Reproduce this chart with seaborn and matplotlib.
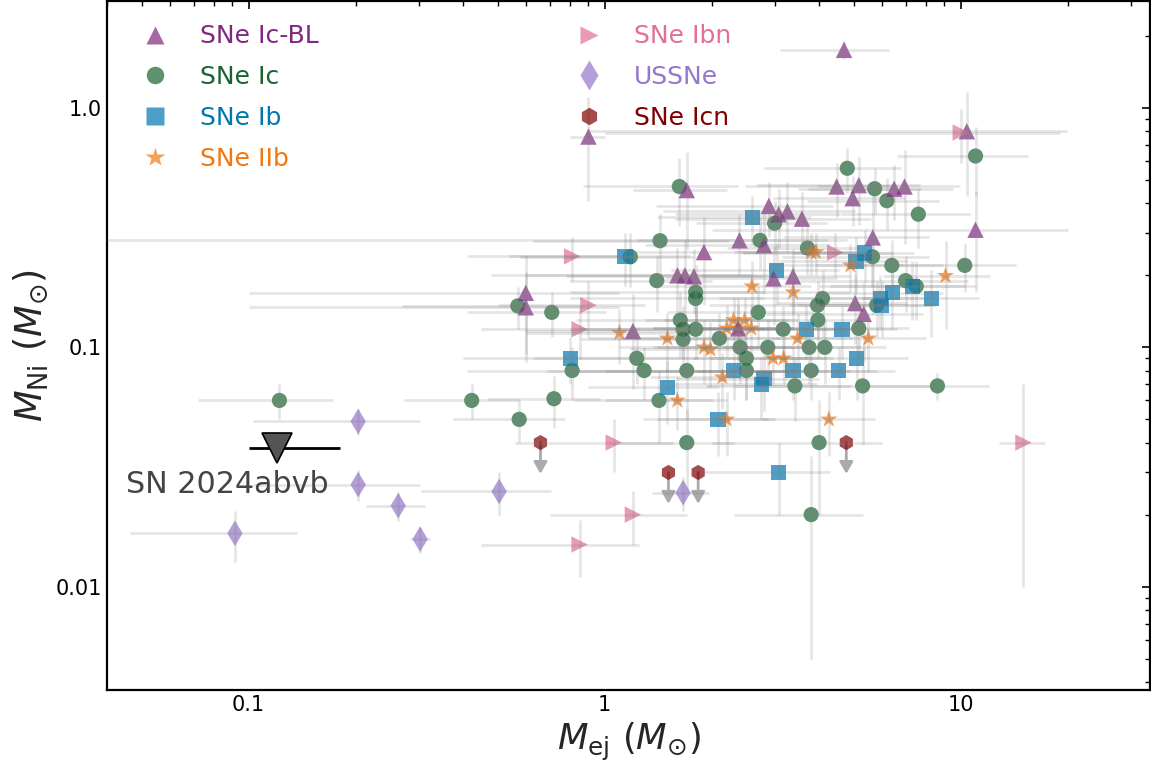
import numpy as np
import pandas as pd
import matplotlib
matplotlib.use("Agg")
import matplotlib.pyplot as plt
import seaborn as sns
from matplotlib.lines import Line2D
from matplotlib.ticker import NullFormatter, LogLocator

# ---------------- data (Mej, MNi, Mej err, MNi err) ----------------
icbl_x = [4.7, 0.9, 10.4, 1.7, 4.48, 5.17, 4.97, 6.5, 6.95, 2.89, 3.08, 3.26, 3.58, 2.39, 2.8,
          1.9, 5.66, 11.0, 2.98, 3.38, 5.05, 5.34, 1.6, 1.68, 1.78, 0.6, 0.6, 1.2, 2.37]
icbl_y = [1.75, 0.76, 0.80, 0.454, 0.47, 0.476, 0.42, 0.46, 0.47, 0.39, 0.36, 0.37, 0.345, 0.28, 0.267,
          0.25, 0.288, 0.31, 0.194, 0.198, 0.153, 0.138, 0.2, 0.2, 0.198, 0.169, 0.147, 0.117, 0.12]
icbl_xe = [1.6, 0.1, 9.5, 0.5, 2.0, 2.5, 2.0, 3.0, 3.0, 1.5, 1.5, 1.8, 2.0, 2.4, 1.5,
           0.8, 2.5, 9.0, 1.5, 1.5, 2.0, 2.5, 1.0, 1.2, 1.0, 0.5, 0.5, 0.6, 1.0]
icbl_ye = [0.15, 0.35, 0.37, 0.2, 0.12, 0.15, 0.1, 0.12, 0.2, 0.1, 0.1, 0.12, 0.1, 0.08, 0.1,
           0.1, 0.15, 0.14, 0.07, 0.06, 0.05, 0.05, 0.06, 0.08, 0.06, 0.075, 0.06, 0.05, 0.04]

ic_x = [11.0, 4.8, 5.73, 6.2, 7.6, 1.62, 3.0, 2.73, 3.71, 5.65, 6.4, 10.26, 7.0, 7.5, 5.8, 4.09,
        3.96, 3.97, 2.7, 3.17, 5.17, 2.1, 2.4, 2.5, 2.5, 2.87, 3.75, 4.15, 3.8, 3.42, 5.3, 8.6,
        1.43, 1.18, 1.4, 1.8, 1.8, 0.57, 0.71, 1.63, 1.66, 1.8, 1.66, 1.23, 1.29, 1.7, 0.81,
        0.72, 1.42, 0.575, 1.7, 4.0, 3.8, 0.122, 0.423]
ic_y = [0.63, 0.56, 0.46, 0.41, 0.36, 0.47, 0.33, 0.28, 0.26, 0.239, 0.22, 0.22, 0.19, 0.18, 0.15, 0.16,
        0.15, 0.13, 0.14, 0.119, 0.12, 0.109, 0.1, 0.09, 0.08, 0.1, 0.1, 0.1, 0.08, 0.069, 0.069, 0.069,
        0.279, 0.239, 0.19, 0.17, 0.16, 0.149, 0.14, 0.13, 0.119, 0.119, 0.108, 0.09, 0.08, 0.08, 0.08,
        0.061, 0.06, 0.05, 0.04, 0.04, 0.02, 0.06, 0.06]
ic_xe = [4.4, 2.0, 2.0, 2.5, 3.0, 0.75, 1.2, 1.5, 1.5, 2.5, 2.5, 4.0, 3.5, 3.5, 2.5, 2.0,
         2.0, 1.5, 1.2, 1.5, 2.0, 1.0, 1.0, 1.2, 1.5, 1.5, 1.5, 2.0, 2.0, 1.5, 3.0, 3.4,
         0.8, 0.6, 0.6, 1.0, 1.0, 0.3, 0.3, 0.8, 0.8, 1.0, 0.8, 0.6, 0.6, 0.9, 0.4,
         0.25, 0.6, 0.2, 0.6, 2.0, 1.5, 0.05, 0.15]
ic_ye = [0.2, 0.12, 0.1, 0.1, 0.1, 0.15, 0.08, 0.07, 0.06, 0.06, 0.06, 0.05, 0.05, 0.05, 0.04, 0.05,
         0.04, 0.04, 0.04, 0.03, 0.03, 0.03, 0.03, 0.03, 0.02, 0.03, 0.03, 0.03, 0.02, 0.02, 0.03, 0.009,
         0.08, 0.06, 0.05, 0.05, 0.04, 0.03, 0.03, 0.04, 0.03, 0.03, 0.03, 0.02, 0.02, 0.03, 0.02,
         0.015, 0.02, 0.01, 0.015, 0.02, 0.015, 0.01, 0.01]

ib_x = [2.6, 3.04, 5.08, 5.37, 7.3, 6.42, 5.94, 6.0, 8.27, 3.68, 4.64, 2.3, 2.8, 2.75, 3.38, 4.54,
        5.1, 1.14, 0.8, 1.5, 2.08, 3.08]
ib_y = [0.35, 0.21, 0.229, 0.248, 0.18, 0.169, 0.16, 0.15, 0.16, 0.119, 0.119, 0.08, 0.074, 0.07, 0.08, 0.08,
        0.09, 0.24, 0.09, 0.068, 0.05, 0.03]
ib_xe = [1.2, 1.5, 2.0, 2.0, 3.0, 2.5, 2.5, 2.5, 3.0, 1.5, 2.0, 1.0, 1.2, 1.2, 1.5, 2.0,
         2.0, 0.6, 0.4, 0.6, 0.8, 1.2]
ib_ye = [0.08, 0.06, 0.06, 0.06, 0.05, 0.05, 0.04, 0.04, 0.05, 0.03, 0.03, 0.02, 0.02, 0.02, 0.02, 0.02,
         0.03, 0.06, 0.02, 0.02, 0.015, 0.01]

iib_x = [3.8, 3.92, 4.9, 9.06, 2.59, 3.38, 3.48, 5.5, 2.3, 2.47, 2.2, 2.37, 2.58, 1.9, 1.98, 2.97,
         3.18, 2.14, 1.1, 1.5, 1.6, 2.2, 4.26]
iib_y = [0.25, 0.25, 0.22, 0.199, 0.18, 0.17, 0.109, 0.109, 0.13, 0.13, 0.12, 0.12, 0.12, 0.1, 0.098, 0.09,
         0.09, 0.075, 0.115, 0.109, 0.06, 0.05, 0.05]
iib_xe = [1.5, 1.5, 2.0, 3.0, 1.2, 1.5, 1.5, 2.5, 1.0, 1.0, 1.0, 1.0, 1.0, 0.8, 0.8, 1.2,
          1.2, 0.8, 0.5, 0.6, 0.6, 0.8, 1.5]
iib_ye = [0.05, 0.05, 0.05, 0.08, 0.05, 0.05, 0.03, 0.03, 0.03, 0.03, 0.03, 0.03, 0.03, 0.03, 0.03, 0.02,
          0.02, 0.02, 0.03, 0.03, 0.015, 0.015, 0.015]

ibn_x = [10.0, 4.44, 0.81, 0.9, 0.85, 1.06, 1.2, 0.85, 15.0]
ibn_y = [0.79, 0.249, 0.24, 0.15, 0.119, 0.04, 0.02, 0.015, 0.04]
ibn_xe = [9.0, 2.0, 0.4, 0.4, 0.4, 0.5, 0.5, 0.4, 2.2]
ibn_ye = [0.2, 0.05, 0.05, 0.04, 0.03, 0.01, 0.005, 0.004, 0.03]

us_x = [0.203, 0.203, 0.263, 0.303, 0.0915, 0.505, 1.66]
us_y = [0.049, 0.0267, 0.0218, 0.0158, 0.0167, 0.025, 0.0247]
us_xe = [0.1, 0.1, 0.05, 0.02, 0.045, 0.2, 0.3]
us_ye = [0.006, 0.004, 0.003, 0.002, 0.004, 0.005, 0.004]

icn_x = [0.66, 4.77, 1.51, 1.83]
icn_y = [0.04, 0.04, 0.03, 0.03]
icn_xe = [0.3, 1.5, 0.6, 0.8]

target_name = "SN 2024abvb"
target_x = 0.12
target_y = 0.038
target_xlo = 0.02
target_xhi = 0.06

labels = ["SNe Ic-BL", "SNe Ic", "SNe Ib", "SNe IIb", "SNe Ibn", "USSNe", "SNe Icn"]
colors = ["#7e297e", "#1a6432", "#0077b1", "#f17713", "#e27094", "#9477cd", "#800000"]
markers = ["^", "o", "s", "*", ">", "d", "h"]
sizes = [140, 120, 120, 170, 140, 170, 120]

# ---------------- plotting ----------------
sns.set_style("white")
plt.rcParams["font.family"] = ["DejaVu Sans"]
plt.rcParams["mathtext.fontset"] = "dejavusans"

fig = plt.figure(figsize=(11.51, 7.66), dpi=100)
ax = fig.add_axes([107 / 1151, 76 / 766, 1043 / 1151, 689 / 766])
ax.set_xscale("log")
ax.set_yscale("log")

series = [
    (icbl_x, icbl_y, icbl_xe, icbl_ye),
    (ic_x, ic_y, ic_xe, ic_ye),
    (ib_x, ib_y, ib_xe, ib_ye),
    (iib_x, iib_y, iib_xe, iib_ye),
    (ibn_x, ibn_y, ibn_xe, ibn_ye),
    (us_x, us_y, us_xe, us_ye),
]
order = [1, 2, 3, 0, 4, 5]
for i in order:
    xs, ys, xe, ye = series[i]
    df = pd.DataFrame({"x": xs, "y": ys, "xe": xe, "ye": ye})
    sns.scatterplot(data=df, x="x", y="y", marker=markers[i], color=colors[i], s=sizes[i],
                    alpha=0.7, edgecolor="none", linewidth=0, ax=ax, zorder=2, legend=False)
    ax.errorbar(df["x"], df["y"], xerr=df["xe"], yerr=df["ye"], fmt="none",
                ecolor="gray", alpha=0.2, elinewidth=2, capsize=0, zorder=3)

# SNe Icn upper limits
dficn = pd.DataFrame({"x": icn_x, "y": icn_y, "xe": icn_xe})
sns.scatterplot(data=dficn, x="x", y="y", marker=markers[6], color=colors[6], s=sizes[6],
                alpha=0.7, edgecolor="none", linewidth=0, ax=ax, zorder=2, legend=False)
for xv, yv in zip(icn_x, icn_y):
    ax.annotate("", xy=(xv, yv * 0.74), xytext=(xv, yv),
                arrowprops=dict(arrowstyle="-|>,head_width=0.4,head_length=0.7",
                                color="#aaaaaa", lw=2, shrinkA=0, shrinkB=0), zorder=1)

# target
ax.errorbar([target_x], [target_y], xerr=[[target_xlo], [target_xhi]], fmt="none",
            ecolor="black", elinewidth=2, capsize=0, zorder=4)
ax.plot([target_x], [target_y], marker="v", ms=22, color="#555555", mec="black", mew=1.2,
        ls="", zorder=5)
ax.annotate(target_name, xy=(target_x, target_y), xytext=(-151, -45),
            textcoords="offset pixels", ha="left", va="baseline", fontsize=21.7, color="#444444")

ax.set_xlim(0.04, 34)
ax.set_ylim(0.0037, 2.8)

ax.set_xticks([0.1, 1, 10])
ax.set_xticklabels(["0.1", "1", "10"])
ax.set_yticks([0.01, 0.1, 1.0])
ax.set_yticklabels(["0.01", "0.1", "1.0"])
ax.xaxis.set_minor_locator(LogLocator(base=10, subs=np.arange(2, 10)))
ax.yaxis.set_minor_locator(LogLocator(base=10, subs=np.arange(2, 10)))
ax.xaxis.set_minor_formatter(NullFormatter())
ax.yaxis.set_minor_formatter(NullFormatter())
ax.tick_params(which="both", direction="in", top=True, right=True, colors="black")
ax.tick_params(which="major", length=6, width=1.2, labelsize=15)
ax.tick_params(which="minor", length=3.5, width=1)
for sp in ax.spines.values():
    sp.set_linewidth(1.6)
    sp.set_color("black")

ax.set_xlabel(r"$M_{\rm ej}\ (M_{\odot})$", fontsize=25.5)
ax.set_ylabel(r"$M_{\rm Ni}\ (M_{\odot})$", fontsize=26.5)

handles = [Line2D([], [], marker=m, ls="", color=c, alpha=0.7, markersize=np.sqrt(s) * 1.15, mec="none")
           for m, c, s in zip(markers, colors, sizes)]
leg = ax.legend(handles, labels, loc="upper left", bbox_to_anchor=(0.0244, 0.9807), ncol=2,
                frameon=False, fontsize=18, handlelength=1.0, handletextpad=1.3,
                columnspacing=10.3, labelspacing=0.67, borderaxespad=0.0, borderpad=0.4,
                labelcolor=colors)

fig.savefig("out.png", dpi=100)
